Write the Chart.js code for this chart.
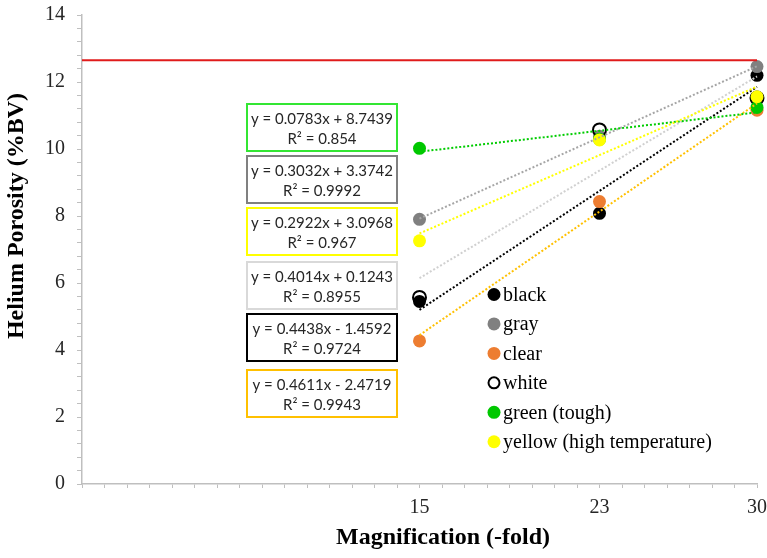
<!DOCTYPE html>
<html>
<head>
<meta charset="utf-8">
<script src="https://cdn.jsdelivr.net/npm/chart.js@4.4.1/dist/chart.umd.min.js"></script>
<style>
    html, body { margin: 0; padding: 0; background: #fff; }
    #wrap { width: 767px; height: 558px; position: relative; }
</style>
</head>
<body>
<div id="wrap"><canvas id="myChart"></canvas></div>
<script>
// data
const magnification = [15, 23, 30];
const seriesNames = ['black', 'gray', 'clear', 'white', 'green (tough)', 'yellow (high temperature)'];
const blackValues = [5.45, 8.08, 12.20];
const grayValues = [7.90, 10.38, 12.46];
const clearValues = [4.27, 8.43, 11.16];
const whiteValues = [5.57, 10.57, 11.52];
const greenValues = [10.02, 10.29, 11.24];
const yellowValues = [7.26, 10.27, 11.56];
const seriesValues = [blackValues, grayValues, clearValues, whiteValues, greenValues, yellowValues];

// linear trendlines as printed on the chart
const trendSlope = [0.4438, 0.3032, 0.4611, 0.4014, 0.0783, 0.2922];
const trendIntercept = [-1.4592, 3.3742, -2.4719, 0.1243, 8.7439, 3.0968];
const trendR2 = ['0.9724', '0.9992', '0.9943', '0.8955', '0.854', '0.967'];

const limitValue = 12.65;
const xRange = [0, 30];
const yRange = [0, 14];
const xTickLabels = [15, 23, 30];
const yTickLabels = [0, 2, 4, 6, 8, 10, 12, 14];

// styles
const pointFill = ['#000000', '#808080', '#ED7D31', 'rgba(0,0,0,0)', '#00C800', '#FFFF00'];
const pointEdge = ['#000000', '#808080', '#ED7D31', '#000000', '#00C800', '#FFFF00'];
const trendColor = ['#000000', '#A6A6A6', '#FFC000', '#D0D0D0', '#00CC00', '#FFFF00'];
const boxBorder = ['#000000', '#808080', '#FFC000', '#D9D9D9', '#33E633', '#FFFF00'];
const boxOrder = [4, 1, 5, 3, 0, 2];
const boxTops = [104, 156, 208, 262, 314, 370];

const serif = '"Liberation Serif", "Times New Roman", serif';

function equationText(i) {
    const b = trendIntercept[i];
    return 'y = ' + trendSlope[i].toFixed(4) + 'x ' + (b < 0 ? '- ' : '+ ') + Math.abs(b).toFixed(4);
}

const datasets = [];

seriesNames.forEach((name, i) => {
    datasets.push({
        label: name,
        data: magnification.map((m, k) => ({ x: m, y: seriesValues[i][k] })),
        backgroundColor: pointFill[i],
        borderColor: pointEdge[i],
        borderWidth: i === 3 ? 2 : 0,
        pointRadius: 6.5,
        order: 20 - i,
        clip: false
    });
});

seriesNames.forEach((name, i) => {
    const x0 = magnification[0];
    const x1 = magnification[magnification.length - 1];
    datasets.push({
        label: name + ' trend',
        data: [
            { x: x0, y: trendSlope[i] * x0 + trendIntercept[i] },
            { x: x1, y: trendSlope[i] * x1 + trendIntercept[i] }
        ],
        showLine: true,
        borderColor: trendColor[i],
        borderWidth: 2,
        borderDash: [2, 2],
        pointRadius: 0,
        order: 8 - i,
        clip: false
    });
});

datasets.push({
    label: 'limit',
    data: xRange.map((x) => ({ x: x, y: limitValue })),
    showLine: true,
    borderColor: '#E01B1B',
    borderWidth: 2,
    pointRadius: 0,
    order: 0,
    clip: false
});

const extrasPlugin = {
    id: 'extras',
    afterDatasetsDraw(chart) {
        const ctx = chart.ctx;
        ctx.save();

        // trendline equation boxes
        boxOrder.forEach((si, k) => {
            const top = boxTops[k];
            ctx.fillStyle = '#ffffff';
            ctx.fillRect(247, top, 150, 47);
            ctx.strokeStyle = boxBorder[si];
            ctx.lineWidth = 2;
            ctx.strokeRect(247, top, 150, 47);
            ctx.fillStyle = '#262626';
            ctx.font = '15px Lato, "Liberation Sans", sans-serif';
            ctx.textAlign = 'center';
            ctx.textBaseline = 'middle';
            ctx.fillText(equationText(si), 322, top + 15);
            ctx.fillText('R\u00B2 = ' + trendR2[si], 322, top + 35);
        });

        // legend
        seriesNames.forEach((name, i) => {
            const y = 294.5 + i * 29.45;
            ctx.beginPath();
            ctx.arc(494, y, i === 3 ? 5.5 : 6.5, 0, Math.PI * 2);
            if (i === 3) {
                ctx.strokeStyle = '#000000';
                ctx.lineWidth = 2;
                ctx.stroke();
            } else {
                ctx.fillStyle = pointFill[i];
                ctx.fill();
            }
            ctx.fillStyle = '#000000';
            ctx.font = '20px ' + serif;
            ctx.textAlign = 'left';
            ctx.textBaseline = 'middle';
            ctx.fillText(name, 503, y + 1);
        });

        // axis titles
        ctx.fillStyle = '#000000';
        ctx.font = 'bold 24px ' + serif;
        ctx.textAlign = 'center';
        ctx.textBaseline = 'middle';
        ctx.fillText('Magnification (-fold)', 443, 538);

        ctx.translate(17, 216);
        ctx.rotate(-Math.PI / 2);
        ctx.fillText('Helium Porosity (%BV)', 0, 0);

        ctx.restore();
    }
};

const ctx = document.getElementById('myChart').getContext('2d');

new Chart(ctx, {
    type: 'scatter',
    data: { datasets: datasets },
    options: {
        responsive: true,
        maintainAspectRatio: false,
        animation: false,
        layout: { padding: { top: 15, right: 10, left: 0, bottom: 0 } },
        plugins: {
            legend: { display: false },
            tooltip: { enabled: false }
        },
        scales: {
            x: {
                type: 'linear',
                min: xRange[0],
                max: xRange[1],
                afterFit: (scale) => {
                    scale.height = 74;
                    scale.paddingLeft = 0;
                    scale.paddingRight = 0;
                },
                ticks: {
                    stepSize: 1,
                    autoSkip: false,
                    maxRotation: 0,
                    padding: 8,
                    color: '#262626',
                    font: { family: serif, size: 20 },
                    callback: (v) => xTickLabels.includes(v) ? String(v) : ''
                },
                grid: {
                    drawOnChartArea: false,
                    drawTicks: true,
                    tickLength: 4,
                    tickColor: '#BFBFBF'
                },
                border: { color: '#BFBFBF', width: 1.5 }
            },
            y: {
                min: yRange[0],
                max: yRange[1],
                afterFit: (scale) => {
                    scale.width = 82;
                    scale.paddingTop = 0;
                    scale.paddingBottom = 0;
                },
                ticks: {
                    stepSize: 0.4,
                    autoSkip: false,
                    padding: 12,
                    color: '#262626',
                    font: { family: serif, size: 20 },
                    callback: (v) => yTickLabels.some((t) => Math.abs(t - v) < 1e-6) ? String(Math.round(v)) : ''
                },
                grid: {
                    drawOnChartArea: false,
                    drawTicks: true,
                    tickLength: 5,
                    tickColor: '#BFBFBF'
                },
                border: { color: '#BFBFBF', width: 1.5 }
            }
        }
    },
    plugins: [extrasPlugin]
});
</script>
</body>
</html>
